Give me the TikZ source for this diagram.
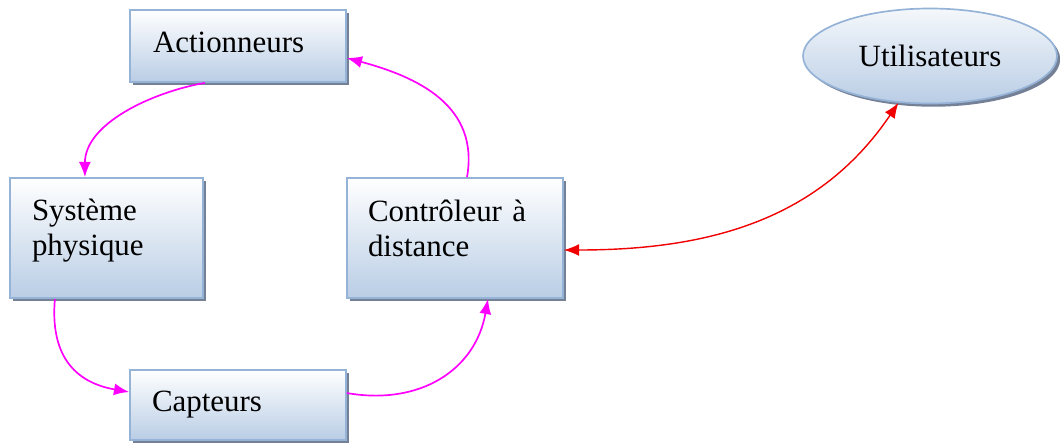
\documentclass[tikz,border=0pt]{standalone}
\usepackage{fontspec}
\setmainfont{Liberation Serif}
\usepackage{tikz}
\usetikzlibrary{arrows.meta}
\usetikzlibrary{shapes.geometric,shadows}
\definecolor{boxedge}{RGB}{149,179,215}
\definecolor{boxfill}{RGB}{185,205,229}
\definecolor{shadowblue}{RGB}{70,85,115}
\definecolor{loopmag}{RGB}{255,0,255}
\definecolor{linkred}{RGB}{240,0,0}

\begin{document}
\begin{tikzpicture}[
    bloc/.style={draw=boxedge,line width=1.2pt,top color=white,bottom color=boxfill,
      drop shadow={shadow xshift=0.08cm,shadow yshift=-0.08cm,fill=shadowblue,opacity=0.75},
      align=left,inner sep=0pt,font=\fontsize{22}{25}\selectfont},
    boucle/.style={loopmag,line width=1.2pt,-{Latex[length=3.8mm,width=3mm]}},
    lien/.style={linkred,line width=1pt,{Latex[length=3.8mm,width=3mm]}-{Latex[length=3.8mm,width=3mm]}}]
    \useasboundingbox (0,0) rectangle (26.5,-11.1);
    % the four blocks of the loop
    \node[bloc,minimum width=5.4cm,minimum height=1.8cm,text width=4.25cm,text depth=0.2cm]
      (act) at (5.95,-1.15) {Actionneurs};
    \node[bloc,minimum width=4.825cm,minimum height=3cm,text width=3.725cm,text depth=1.4cm]
      (sys) at (2.6625,-5.95) {Système\\physique};
    \node[bloc,minimum width=5.4cm,minimum height=3cm,text width=4.35cm,text depth=1.38cm]
      (ctl) at (11.375,-5.95) {Contrôleur à\\distance};
    \node[bloc,minimum width=5.4cm,minimum height=1.75cm,text width=4.3cm]
      (cap) at (5.95,-10.125) {Capteurs};
    % users
    \node[bloc,ellipse,align=center,minimum width=6.35cm,minimum height=2.375cm,
      top color=white!85!boxfill]
      (usr) at (23.25,-1.4) {Utilisateurs};
    % loop arrows
    \draw[boucle] ([xshift=-0.825cm]act.south) to[out=190,in=90,looseness=0.9]
      ([xshift=-0.54cm]sys.north);
    \draw[boucle] ([xshift=-1.29cm]sys.south) to[out=265,in=170,looseness=1.2]
      ([yshift=0.325cm]cap.west);
    \draw[boucle] ([yshift=0.3cm]cap.east) to[out=-10,in=-100,looseness=1.1]
      ([xshift=0.825cm]ctl.south);
    \draw[boucle] ([xshift=0.3cm]ctl.north) to[out=80,in=-15,looseness=1.1]
      ([yshift=-0.3cm]act.east);
    % link to the users
    \draw[lien] ([yshift=-0.3cm]ctl.east) to[out=0,in=236] (usr.236);
\end{tikzpicture}
\end{document}
